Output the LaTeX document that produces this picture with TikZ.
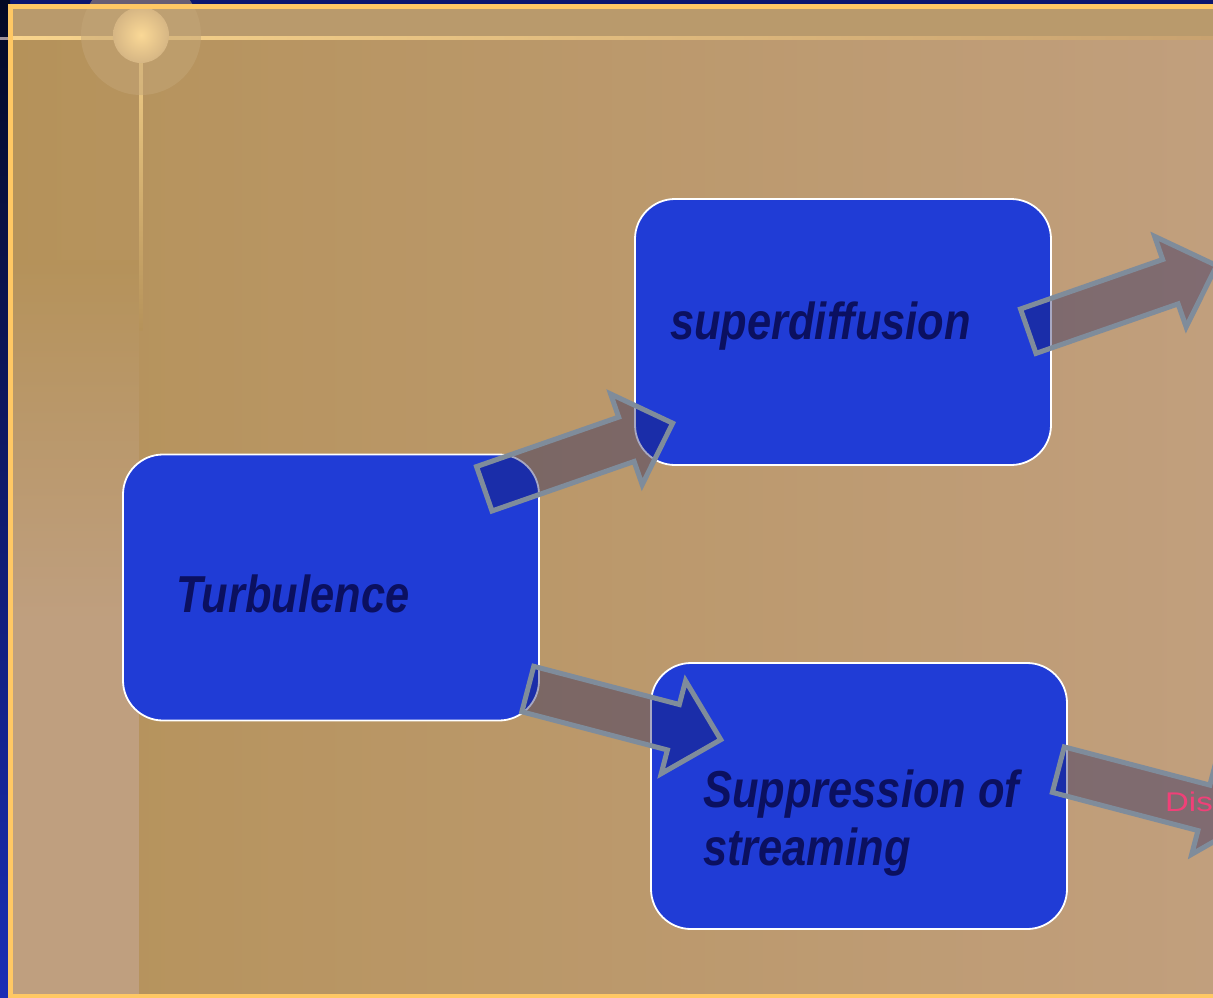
\documentclass[tikz,border=0pt]{standalone}
\usepackage{fontspec}
\setmainfont{Liberation Sans}
\newfontfamily\bxf[FakeStretch=0.835]{Liberation Sans}
\newfontfamily\wdf[FakeStretch=1.22]{Liberation Sans}
\usetikzlibrary{calc}
\definecolor{boxblue}{RGB}{32,60,214}
\definecolor{txtnavy}{RGB}{11,16,96}
\definecolor{arline}{RGB}{127,140,155}
\definecolor{arfill}{RGB}{17,20,93}
\definecolor{tanL}{RGB}{181,146,90}
\definecolor{tanR}{RGB}{193,159,125}
\definecolor{bandC}{RGB}{185,154,108}
\definecolor{stripC}{RGB}{191,159,127}
\definecolor{orangeB}{RGB}{255,200,100}
\definecolor{navyT}{RGB}{12,22,110}
\definecolor{navyA}{RGB}{4,8,36}
\definecolor{navyB}{RGB}{26,45,181}
\definecolor{lineL}{RGB}{248,212,140}
\definecolor{lineR}{RGB}{200,162,112}
\definecolor{glowC}{RGB}{250,216,150}
\definecolor{glowE}{RGB}{214,182,132}
\definecolor{haloC}{RGB}{196,166,120}
\definecolor{pinkT}{RGB}{240,64,120}
\tikzset{
  bx/.style={draw=white, line width=1.8pt, fill=boxblue, rounded corners=40pt,
    minimum width=416pt, minimum height=266pt, inner sep=0pt},
  lbl/.style={text=txtnavy, inner sep=0pt, anchor=base west,
    font=\bxf\bfseries\itshape\fontsize{52}{58}\selectfont},
  barrow/.style={draw=arline, line width=5pt, line join=miter, fill=arfill, fill opacity=0.37}
}
\newcommand{\blkarrow}[3]{%
  \begin{scope}[shift={#1}, rotate=#2]
    \draw[barrow] (2.5pt,-23.5pt) -- (153pt,-23.5pt) -- (153pt,-48pt) -- (202pt,0pt)
      -- (153pt,48pt) -- (153pt,23.5pt) -- (2.5pt,23.5pt) -- cycle;
    \coordinate (#3) at (202pt,0pt);
  \end{scope}}
\begin{document}
\begin{tikzpicture}[x=1pt,y=-1pt]
\useasboundingbox (0,0) rectangle (1213,997);
\clip (0,0) rectangle (1213,997);
% background
\fill[navyT] (0,0) rectangle (1213,9);
\shade[top color=navyA, bottom color=navyB] (0,0) rectangle (10,997);
\shade[left color=tanL, right color=tanR] (10,9) rectangle (1213,997);
\fill[bandC] (10,9) rectangle (1213,37);
\shade[top color=tanL, bottom color=stripC] (10,260) rectangle (139,620);
\fill[stripC] (10,619) rectangle (139,997);
\shade[left color=lineL, right color=lineR] (10,36.5) rectangle (1213,39.5);
\fill[lineL!60!navyB] (0,36.5) rectangle (10,39.5);
\shade[top color=lineL, bottom color=tanL] (139.5,9) rectangle (142.5,330);
\fill[haloC, fill opacity=0.5] (141,35) circle (60pt);
\shade[inner color=glowC, outer color=glowE] (141,35) circle (28pt);
\draw[orangeB, line width=5pt] (10.5,6.5) rectangle (1240,996.5);
% boxes
\node[bx] (turb) at (331,587.5) {};
\node[bx] (sup) at (843,332) {};
\node[bx] (supp) at (859,796) {};
% arrows
\blkarrow{($(turb.north east)+(-58,36)$)}{19.2}{a1}
\blkarrow{($(sup.east)+(-26,0)$)}{19.2}{a2}
\blkarrow{($(turb.south east)+(-14.5,-33)$)}{-14.7}{a3}
\blkarrow{($(supp.east)+(-12,-27)$)}{-14.7}{a4}
% texts
\node[lbl] (tt) at (176,612) {Turbulence};
\node[lbl] (st) at (670,339) {superdiffusion};
\node[lbl] (pt1) at (703,807) {Suppression of};
\node[lbl] (pt2) at (703,865) {streaming};
\node[text=pinkT, inner sep=0pt, anchor=base west, font=\wdf\fontsize{27}{30}\selectfont] (dis) at (1165,811) {Dis};
\end{tikzpicture}
\end{document}
